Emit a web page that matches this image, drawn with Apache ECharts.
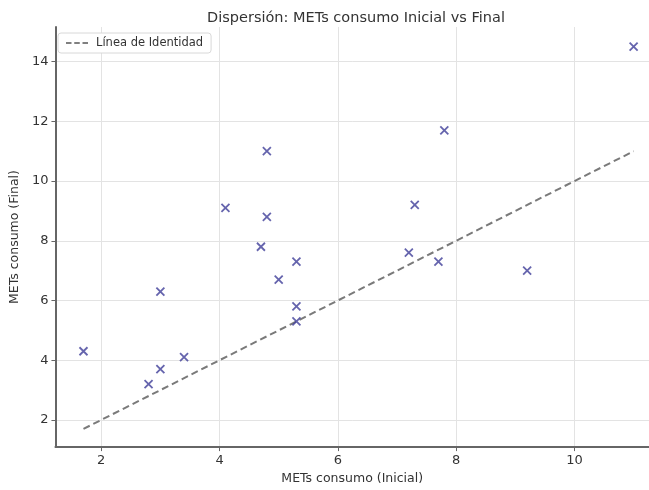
<!DOCTYPE html>
<html><head><meta charset="utf-8">
<script src="https://cdn.jsdelivr.net/npm/echarts@6/dist/echarts.min.js"></script>
<style>html,body{margin:0;padding:0;background:#fff}#c{width:649px;height:490px}</style>
</head><body><div id="c"></div>
<script>
const metsInicial = [1.7, 2.8, 3.0, 3.0, 3.4, 4.1, 4.7, 4.8, 4.8, 5.0, 5.3, 5.3, 5.3, 7.2, 7.3, 7.7, 7.8, 9.2, 11.0];
const metsFinal   = [4.3, 3.2, 3.7, 6.3, 4.1, 9.1, 7.8, 11.0, 8.8, 6.7, 7.3, 5.8, 5.3, 7.6, 9.2, 7.3, 11.7, 7.0, 14.5];
const titleText = 'Dispersión: METs consumo Inicial vs Final';
const xName = 'METs consumo (Inicial)';
const yName = 'METs consumo (Final)';
const lineName = 'Línea de Identidad';

const lo = Math.min(...metsInicial), hi = Math.max(...metsInicial);
const identity = [[lo, lo], [hi, hi]];
const points = metsInicial.map((v, i) => [v, metsFinal[i]]);

const font = 'DejaVu Sans';
const chart = echarts.init(document.getElementById('c'));
const axisCommon = {
  type: 'value',
  nameLocation: 'middle',
  nameTextStyle: {fontFamily: font, fontSize: 12.5, color: '#333'},
  axisLine: {show: true, lineStyle: {color: '#666', width: 2}},
  axisTick: {show: true, inside: false, length: 4, lineStyle: {color: '#666'}},
  axisLabel: {fontFamily: font, fontSize: 13, color: '#333', margin: 7, showMinLabel: false, showMaxLabel: false,
    formatter: v => (Math.abs(v - Math.round(v)) < 1e-6 ? String(Math.round(v)) : '')},
  splitLine: {show: true, showMinLine: false, showMaxLine: false, lineStyle: {color: '#e3e3e3', width: 1}}
};
chart.setOption({
  animation: false,
  title: {text: titleText, left: 351, top: 6, textAlign: 'center',
    textStyle: {fontFamily: font, fontSize: 14.5, fontWeight: 'normal', color: '#333'}},
  legend: {left: 58, top: 33, orient: 'vertical', padding: [4, 8], itemWidth: 22, itemHeight: 2, itemGap: 4,
    borderColor: '#d8d8d8', borderWidth: 1, borderRadius: 3, backgroundColor: '#fff',
    textStyle: {fontFamily: font, fontSize: 11.5, color: '#333', padding: [0, 0, 0, 3]},
    data: [{name: lineName, icon: 'path://M0,0h6v2h-6z M9,0h6v2h-6z M18,0h6v2h-6z', itemStyle: {color: '#808080'}}]},
  grid: {left: 54, right: 0, top: 27, bottom: 39, containLabel: false},
  xAxis: Object.assign({}, axisCommon, {name: xName, nameGap: 23, min: 1.226, max: 11.26, splitNumber: 5}),
  yAxis: Object.assign({}, axisCommon, {name: yName, nameGap: 29, min: 1.09, max: 15.16, splitNumber: 7}),
  series: [
    {name: lineName, type: 'line', data: identity, symbol: 'none',
      lineStyle: {color: '#7a7a7a', width: 2, type: [7, 4]}, itemStyle: {color: '#808080'}, z: 2},
    {name: 'Datos', type: 'scatter', data: points,
      symbol: 'path://M0,0 L10,10 M10,0 L0,10', symbolSize: 8,
      itemStyle: {color: 'rgba(0,0,0,0)', borderColor: '#3f3d99', borderWidth: 1.8}, z: 3}
  ]
});
</script></body></html>
